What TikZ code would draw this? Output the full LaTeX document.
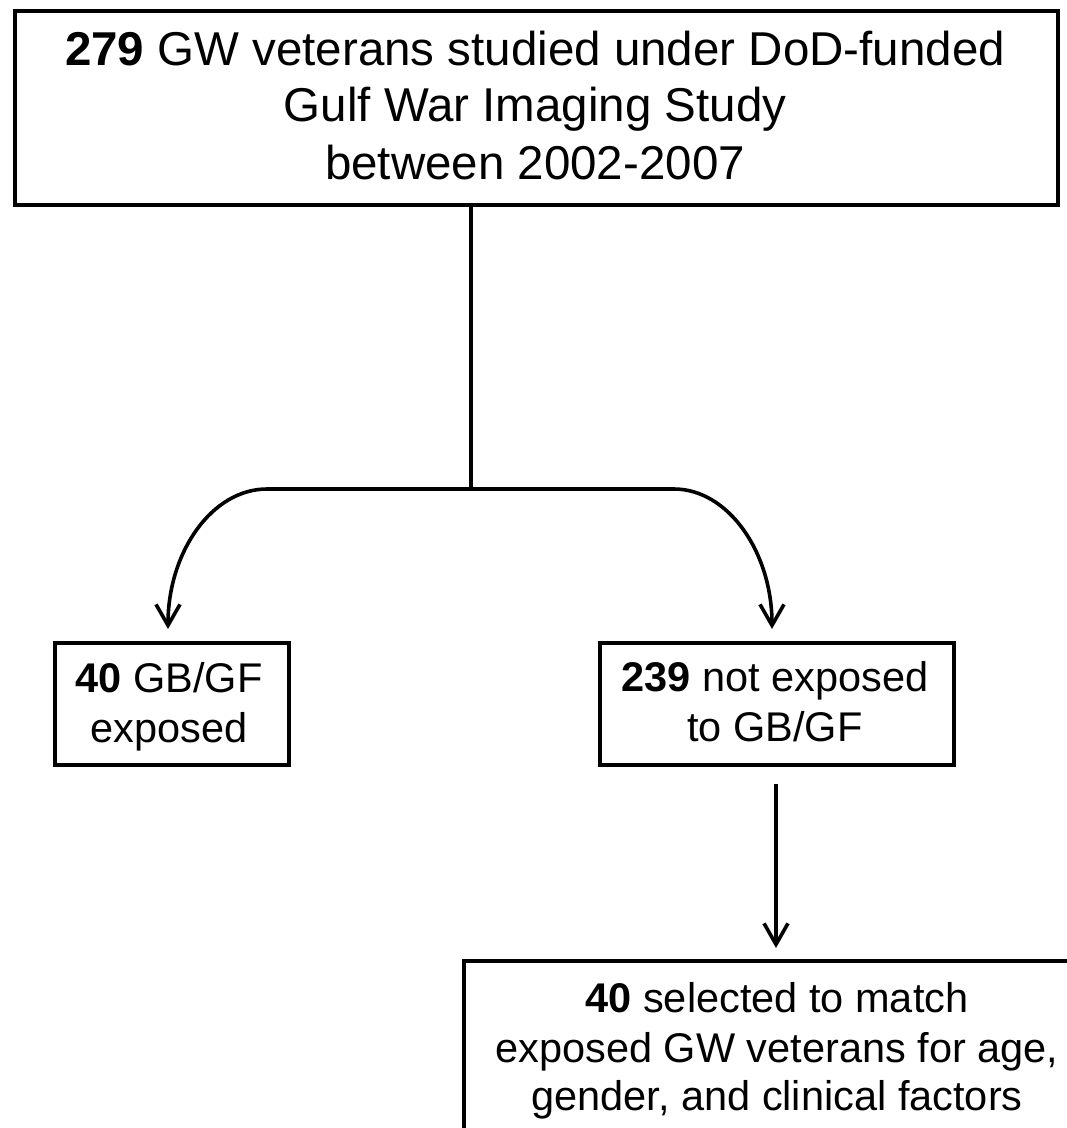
\documentclass[tikz,border=0pt]{standalone}
\usepackage{fontspec}
\setmainfont{Liberation Sans}
\usetikzlibrary{arrows.meta}
\begin{document}
\begin{tikzpicture}[x=1pt,y=-1pt,
  box/.style={draw=black, line width=4pt, inner sep=0pt, anchor=north west},
  conn/.style={draw=black, line width=3.6pt},
  arr/.style={conn, -{Straight Barb[length=21pt,width=24pt,line width=3.6pt]}},
  bigtxt/.style={anchor=base, inner sep=0pt, font=\fontsize{47.5}{57}\selectfont},
  smalltxt/.style={anchor=base, inner sep=0pt, font=\fontsize{41.5}{50}\selectfont}]
\clip (0,0) rectangle (1067,1128);
\fill[white] (0,0) rectangle (1067,1128);
% boxes
\node[box, minimum width=1043pt, minimum height=193.7pt] (top) at (13,9) {};
\node[box, minimum width=234pt, minimum height=122pt] (lb) at (53,641) {};
\node[box, minimum width=354pt, minimum height=122pt] (rb) at (598,641) {};
\node[box, minimum width=700pt, minimum height=300pt] (bb) at (462,959) {};
% texts
\node[bigtxt] (t1) at (535,65.7) {\textbf{279} GW veterans studied under DoD-funded};
\node[bigtxt] (t2) at (535,121.7) {Gulf War Imaging Study};
\node[bigtxt] (t3) at (535,179) {between 2002-2007};
\node[smalltxt] (l1) at (169,692) {\textbf{40} GB/GF};
\node[smalltxt] (l2) at (169,742) {exposed};
\node[smalltxt] (r1) at (775,691.5) {\textbf{239} not exposed};
\node[smalltxt] (r2) at (775,741) {to GB/GF};
\node[smalltxt] (b1) at (777,1012) {\textbf{40} selected to match};
\node[smalltxt] (b2) at (777,1062) {exposed GW veterans for age,};
\node[smalltxt] (b3) at (777,1110) {gender, and clinical factors};
% connectors
\coordinate (j) at (471,489);
\coordinate (lc) at (267,489);
\coordinate (rc) at (674,489);
\coordinate (tipL) at (168,629);
\coordinate (tipR) at (772,629);
\coordinate (dx) at (776,800);
\draw[conn] (top.south -| j) -- (j);
\draw[arr] (j) -- (lc) .. controls (212,489) and (168,552) .. (tipL);
\draw[arr] (j) -- (rc) .. controls (728,489) and (772,552) .. (tipR);
\draw[arr, shorten <=17pt, shorten >=11pt] (rb.south -| dx) -- (bb.north -| dx);
\end{tikzpicture}
\end{document}
